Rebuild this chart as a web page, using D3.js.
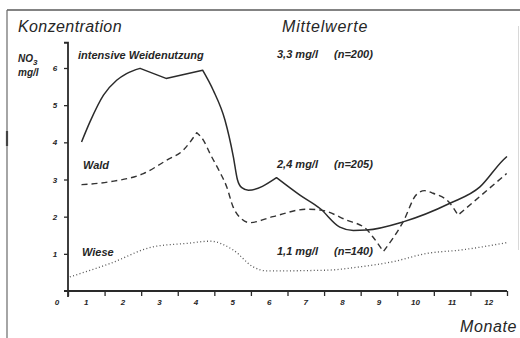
<!DOCTYPE html>
<html>
<head>
<meta charset="utf-8">
<script src="https://cdn.jsdelivr.net/npm/d3@7"></script>
<style>
  html, body { margin: 0; padding: 0; background: #fff; }
  svg { display: block; }
  text { font-family: "Liberation Sans", Arial, sans-serif; font-style: italic; fill: #262626; }
</style>
</head>
<body>
<svg id="chart" width="520" height="338"></svg>
<script>
// ---- data (x in month-axis units 0..12, y in mg/l) ----
const months = ["1","2","3","4","5","6","7","8","9","10","11","12"];
const yTickValues = [1, 2, 3, 4, 5, 6];
const seriesNames = ["intensive Weidenutzung", "Wald", "Wiese"];
const meanLabels = ["3,3 mg/l", "2,4 mg/l", "1,1 mg/l"];
const countLabels = ["(n=200)", "(n=205)", "(n=140)"];

const intensive = [
  [0.37,4.01],[0.60,4.55],[0.97,5.27],[1.33,5.67],[1.60,5.85],[1.97,5.99],
  [2.68,5.72],[3.68,5.94],[3.97,5.40],[4.29,4.60],[4.52,3.61],[4.63,3.00],
  [4.75,2.78],[4.93,2.71],[5.70,3.05],[6.34,2.58],[6.89,2.22],[7.43,1.72],
  [7.80,1.63],[8.16,1.64],[9.16,1.86],[10.44,2.36],[11.26,2.80],[11.89,3.52],[12.0,3.62]
];
// indices where the drawn line has a sharp corner
const intensiveCorners = [0, 5, 6, 7, 14, 24];

const wald = [
  [0.37,2.86],[1.15,2.94],[2.06,3.16],[2.70,3.52],[3.15,3.79],[3.52,4.26],
  [3.70,4.06],[3.88,3.70],[4.15,3.20],[4.34,2.80],[4.51,2.27],[4.70,1.98],
  [4.97,1.84],[5.60,2.00],[6.52,2.20],[6.89,2.18],[7.61,1.91],[8.16,1.66],
  [8.33,1.46],[8.62,1.06],[9.16,1.86],[9.53,2.60],[9.75,2.70],[9.98,2.63],
  [10.44,2.36],[10.66,2.04],[11.99,3.16]
];
const waldCorners = [0, 5, 19, 25, 26];

const wiese = [
  [0.05,0.38],[1.15,0.74],[2.33,1.19],[3.24,1.28],[3.88,1.34],[4.52,1.10],
  [5.06,0.65],[5.43,0.54],[7.07,0.56],[7.98,0.65],[8.89,0.79],[9.80,1.01],
  [10.71,1.10],[11.99,1.30]
];
const wieseCorners = [0, 13];

// ---- drawing ----
const svg = d3.select("#chart");
const x = d3.scaleLinear().domain([0, 12]).range([68, 507]);
const y = d3.scaleLinear().domain([0, 6]).range([291, 68]);
const ink = "#2a2a2a";

// smooth line pieces between corner points, joined into one continuous path
function cornerPath(data, corners) {
  const gen = d3.line().x(d => x(d[0])).y(d => y(d[1])).curve(d3.curveMonotoneX);
  let d = "";
  for (let k = 0; k < corners.length - 1; k++) {
    const seg = data.slice(corners[k], corners[k + 1] + 1);
    let s = gen(seg);
    if (k > 0) s = s.replace(/^M[^LC]*/, "");
    d += s;
  }
  return d;
}

// page frame
svg.append("line").attr("x1", 7).attr("x2", 520).attr("y1", 10).attr("y2", 10)
  .attr("stroke", "#5a5a5a").attr("stroke-width", 1.6);
svg.append("line").attr("x1", 7).attr("x2", 7).attr("y1", 10).attr("y2", 338)
  .attr("stroke", "#6a6a6a").attr("stroke-width", 1.2);
svg.append("line").attr("x1", 7).attr("x2", 7).attr("y1", 131).attr("y2", 146)
  .attr("stroke", "#444").attr("stroke-width", 2.2);
svg.append("line").attr("x1", 518.5).attr("x2", 518.5).attr("y1", 26).attr("y2", 250)
  .attr("stroke", "#d8d8d8").attr("stroke-width", 1);

// y axis
const gy = svg.append("g").attr("transform", `translate(${x(0)},0)`)
  .call(d3.axisLeft(y).tickValues(yTickValues).tickSize(4).tickSizeOuter(0).tickFormat(""));
gy.select(".domain").remove();
gy.selectAll(".tick line").attr("stroke", ink).attr("stroke-width", 1.3);
svg.append("path")
  .attr("d", `M${x(0) - 4},${y(6.68)}H${x(0)}V${y(0) + 6}`)
  .attr("fill", "none").attr("stroke", ink).attr("stroke-width", 1.8);
svg.append("g").selectAll("text").data(yTickValues).join("text")
  .attr("x", 55).attr("y", d => y(d) + 3)
  .attr("text-anchor", "middle").attr("font-size", 8).attr("font-weight", "bold")
  .text(d => d);

// x axis
const gx = svg.append("g").attr("transform", `translate(0,${y(0)})`)
  .call(d3.axisBottom(x).tickValues(d3.range(0, 13)).tickSize(5).tickSizeOuter(0).tickFormat(""));
gx.select(".domain").remove();
gx.selectAll(".tick line").attr("stroke", ink).attr("stroke-width", 1.3);
svg.append("line").attr("x1", x(0) - 4).attr("x2", x(12)).attr("y1", y(0)).attr("y2", y(0))
  .attr("stroke", ink).attr("stroke-width", 1.8);
svg.append("g").selectAll("text").data(months).join("text")
  .attr("x", (d, i) => x(i + 0.5)).attr("y", y(0) + 14)
  .attr("text-anchor", "middle").attr("font-size", 8).attr("font-weight", "bold")
  .text(d => d);
svg.append("text").attr("x", 57).attr("y", y(0) + 14).attr("text-anchor", "middle")
  .attr("font-size", 8).attr("font-weight", "bold").text("0");

// lines
svg.append("path").attr("d", cornerPath(intensive, intensiveCorners))
  .attr("fill", "none").attr("stroke", "#2b2b2b").attr("stroke-width", 1.5)
  .attr("stroke-linejoin", "round");
svg.append("path").attr("d", cornerPath(wald, waldCorners))
  .attr("fill", "none").attr("stroke", "#333").attr("stroke-width", 1.4)
  .attr("stroke-dasharray", "6,4").attr("stroke-linejoin", "round");
svg.append("path").attr("d", cornerPath(wiese, wieseCorners))
  .attr("fill", "none").attr("stroke", "#555").attr("stroke-width", 1.3)
  .attr("stroke-dasharray", "1,2.4");

// titles
svg.append("text").attr("x", 18).attr("y", 32).attr("font-size", 16)
  .attr("letter-spacing", 0.4).text("Konzentration");
svg.append("text").attr("x", 282).attr("y", 32).attr("font-size", 16)
  .attr("letter-spacing", 0.8).text("Mittelwerte");
svg.append("text").attr("x", 460).attr("y", 332).attr("font-size", 16)
  .attr("letter-spacing", 0.6).text("Monate");

// unit label
const unit = svg.append("text").attr("x", 18).attr("y", 62).attr("font-size", 10).attr("font-weight", "bold");
unit.append("tspan").text("NO");
unit.append("tspan").attr("dy", 3).attr("font-size", 8).text("3");
svg.append("text").attr("x", 18).attr("y", 76).attr("font-size", 10).attr("font-weight", "bold").text("mg/l");

// series labels and means
const labelY = [59, 169, 256];
const labelX = [78, 83, 82];
svg.append("g").selectAll("text").data(seriesNames).join("text")
  .attr("x", (d, i) => labelX[i]).attr("y", (d, i) => labelY[i])
  .attr("font-size", 11).attr("font-weight", "bold").text(d => d);
svg.append("g").selectAll("text").data(meanLabels).join("text")
  .attr("x", 277).attr("y", (d, i) => labelY[i] - 1)
  .attr("font-size", 11).attr("font-weight", "bold").text(d => d);
svg.append("g").selectAll("text").data(countLabels).join("text")
  .attr("x", 334).attr("y", (d, i) => labelY[i] - 1)
  .attr("font-size", 11).attr("font-weight", "bold").text(d => d);
</script>
</body>
</html>
